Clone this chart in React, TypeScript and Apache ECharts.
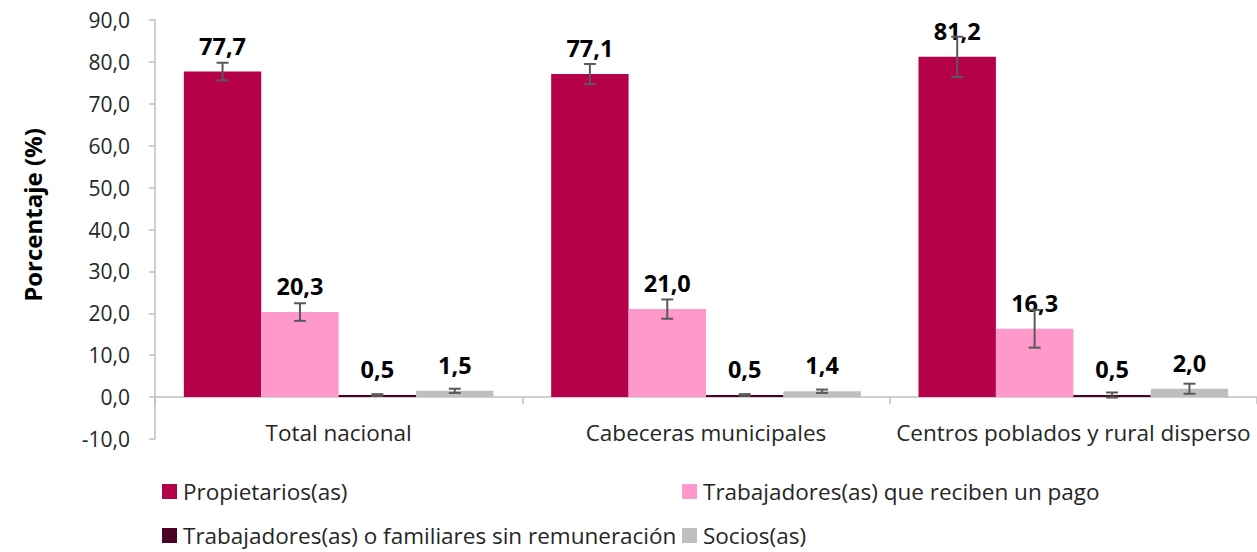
import React, { useEffect, useRef } from "react";
import * as echarts from "echarts";

const categories = ["Total nacional", "Cabeceras municipales", "Centros poblados y rural disperso"];
const seriesNames = [
  "Propietarios(as)",
  "Trabajadores(as) que reciben un pago",
  "Trabajadores(as) o familiares sin remuneración",
  "Socios(as)",
];
const colors = ["#B5004A", "#FF99CC", "#4D0026", "#BFBFBF"];
const propietarios = [77.7, 77.1, 81.2];
const trabajadoresPago = [20.3, 21.0, 16.3];
const sinRemuneracion = [0.5, 0.5, 0.5];
const socios = [1.5, 1.4, 2.0];
const errPropietarios = [2.1, 2.4, 4.8];
const errTrabajadoresPago = [2.1, 2.3, 4.5];
const errSinRemuneracion = [0.2, 0.2, 0.6];
const errSocios = [0.5, 0.4, 1.2];

const values = [propietarios, trabajadoresPago, sinRemuneracion, socios];
const errors = [errPropietarios, errTrabajadoresPago, errSinRemuneracion, errSocios];

const fmt = (v: number) => v.toFixed(1).replace(".", ",");
const FONT = "'Open Sans', 'Noto Sans', sans-serif";
const GAP = 0.157;

export default function App() {
  const ref = useRef<HTMLDivElement>(null);
  useEffect(() => {
    if (!ref.current) return;
    const chart = echarts.init(ref.current, undefined, { renderer: "svg" });

    const errData: number[][] = [];
    values.forEach((arr, s) => {
      arr.forEach((v, c) => {
        errData.push([c, v, v - errors[s][c], v + errors[s][c], s]);
      });
    });

    const legendPos = [
      { left: 162, top: 480 },
      { left: 682, top: 480 },
      { left: 162, top: 524 },
      { left: 682, top: 524 },
    ];

    const option: any = {
      animation: false,
      textStyle: { fontFamily: FONT },
      grid: { left: 155, top: 20, width: 1110, height: 419 },
      legend: seriesNames.map((n, i) => ({
        data: [n],
        left: legendPos[i].left,
        top: legendPos[i].top,
        padding: 0,
        itemWidth: 15,
        itemHeight: 15,
        itemGap: 8,
        icon: "rect",
        textStyle: {
          fontSize: 22.5,
          lineHeight: 22,
          color: "#262626",
          fontFamily: FONT,
          padding: [0, 0, 0, 1],
        },
      })),
      graphic: [
        {
          type: "text",
          x: 32,
          y: 215,
          rotation: Math.PI / 2,
          style: {
            text: "Porcentaje (%)",
            font: `bold 24px ${FONT}`,
            fill: "#000",
            textAlign: "center",
            textVerticalAlign: "middle",
          },
        },
      ],
      xAxis: {
        type: "category",
        data: categories,
        offset: -42,
        axisLine: { onZero: false, lineStyle: { color: "#BFBFBF", width: 1.5 } },
        axisTick: { show: true, interval: 0, length: 7, lineStyle: { color: "#BFBFBF", width: 1.5 } },
        axisLabel: { fontSize: 22.5, color: "#262626", margin: 24, interval: 0 },
      },
      yAxis: {
        type: "value",
        min: -10,
        max: 90,
        interval: 10,
        axisLine: { show: true, lineStyle: { color: "#BFBFBF", width: 1.5 } },
        axisTick: { show: true, length: 6, lineStyle: { color: "#BFBFBF", width: 1.5 } },
        splitLine: { show: false },
        axisLabel: { fontSize: 21, color: "#262626", margin: 25, formatter: (v: number) => fmt(v) },
      },
      series: [
        ...values.map((arr, i) => ({
          type: "bar",
          name: seriesNames[i],
          data: arr,
          barGap: "0%",
          barCategoryGap: `${GAP * 100}%`,
          itemStyle: { color: colors[i] },
          label: {
            show: true,
            position: "top",
            distance: 14,
            fontSize: 23.5,
            fontWeight: "bold",
            color: "#000",
            fontFamily: FONT,
            formatter: (p: any) => fmt(p.value),
          },
        })),
        {
          type: "custom",
          name: "err",
          data: errData,
          z: 5,
          silent: true,
          encode: { x: 0, y: [2, 3] },
          renderItem: (params: any, api: any) => {
            const c = api.value(0);
            const s = api.value(4);
            const lo = api.coord([c, api.value(2)]);
            const hi = api.coord([c, api.value(3)]);
            const band = api.size([1, 0])[0];
            const bw = (band * (1 - GAP)) / 4;
            const x = lo[0] + (s - 1.5) * bw;
            const half = 6;
            const style = { stroke: "#595959", lineWidth: 2 };
            return {
              type: "group",
              children: [
                { type: "line", shape: { x1: x, y1: lo[1], x2: x, y2: hi[1] }, style },
                { type: "line", shape: { x1: x - half, y1: lo[1], x2: x + half, y2: lo[1] }, style },
                { type: "line", shape: { x1: x - half, y1: hi[1], x2: x + half, y2: hi[1] }, style },
              ],
            };
          },
        },
      ],
    };
    chart.setOption(option);
    return () => chart.dispose();
  }, []);
  return (
    <div
      ref={ref}
      style={{ position: "fixed", left: 0, top: 0, width: 1257, height: 552, background: "#fff" }}
    />
  );
}
